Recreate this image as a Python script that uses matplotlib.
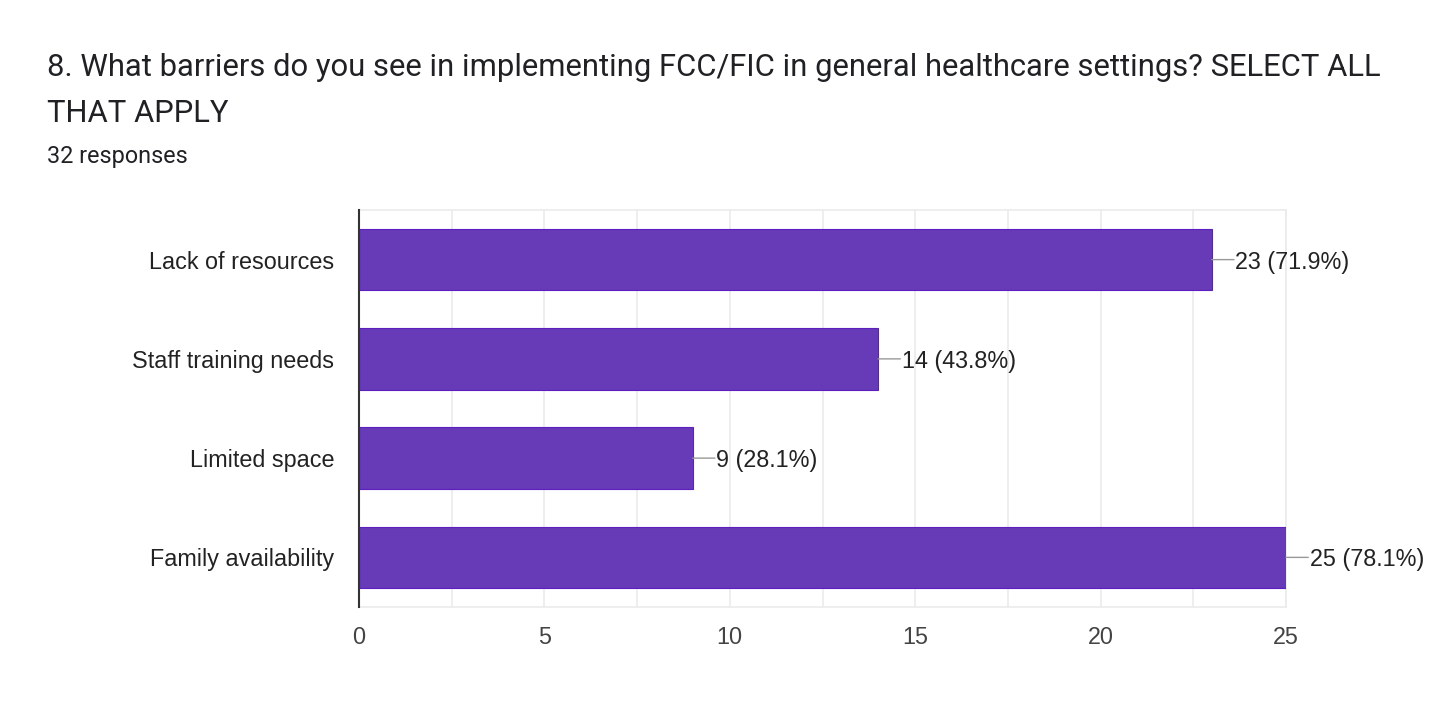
import matplotlib.pyplot as plt
import numpy as np

plt.rcParams['font.family'] = ['Liberation Sans', 'DejaVu Sans']

categories = ['Lack of resources', 'Staff training needs', 'Limited space', 'Family availability']
counts = [23, 14, 9, 25]
percents = [71.9, 43.8, 28.1, 78.1]
total = 32

fig = plt.figure(figsize=(14.31, 7.25), dpi=100)
ax = fig.add_axes([359 / 1431, 1 - 607 / 725, 927 / 1431, 397 / 725])

y = np.arange(len(categories))
ax.barh(y, counts, height=0.62, color='#673ab7', edgecolor='#5e1fbf', linewidth=0.8, zorder=3)

ax.set_xlim(0, 25)
ax.set_ylim(len(categories) - 0.5, -0.5)
ax.set_xticks([0, 5, 10, 15, 20, 25])
ax.set_xticks(np.arange(0, 25.1, 2.5), minor=True)
ax.grid(axis='x', which='both', color='#ebebeb', linewidth=1.2, zorder=0)
ax.set_yticks(y)
ax.set_yticklabels(categories)
ax.tick_params(axis='y', length=0, pad=18, labelsize=16.8, labelcolor='#222222')
ax.tick_params(axis='x', which='both', length=0, pad=14, labelsize=16.8, labelcolor='#444444')

for s in ['top', 'right', 'bottom']:
    ax.spines[s].set_color('#ebebeb')
    ax.spines[s].set_linewidth(1.2)
ax.spines['left'].set_color('#333333')
ax.spines['left'].set_linewidth(1.5)
ax.spines['left'].set_zorder(4)

# leader line + value label
for i, (c, p) in enumerate(zip(counts, percents)):
    ax.annotate('', xy=(c, i), xytext=(16, 0), textcoords='offset points',
                arrowprops=dict(arrowstyle='-', color='#999999', lw=1, shrinkA=0, shrinkB=0),
                annotation_clip=False)
    ax.annotate(f'{c} ({p}%)', xy=(c, i), xytext=(17, 0), textcoords='offset points',
                ha='left', va='center_baseline', fontsize=16.8, color='#222222',
                annotation_clip=False)

title_font = ['Roboto', 'DejaVu Sans']
fig.text(47 / 1431, 1 - 68 / 725,
         '8. What barriers do you see in implementing FCC/FIC in general healthcare settings? SELECT ALL',
         fontsize=22.3, color='#202124', va='center', ha='left', family=title_font)
fig.text(47 / 1431, 1 - 114 / 725, 'THAT APPLY', fontsize=22.3, color='#202124', va='center', ha='left',
         family=title_font)
fig.text(47 / 1431, 1 - 156 / 725, f'{total} responses', fontsize=16.8, color='#202124', va='center', ha='left',
         family=title_font)

fig.savefig('out.png', dpi=100)
